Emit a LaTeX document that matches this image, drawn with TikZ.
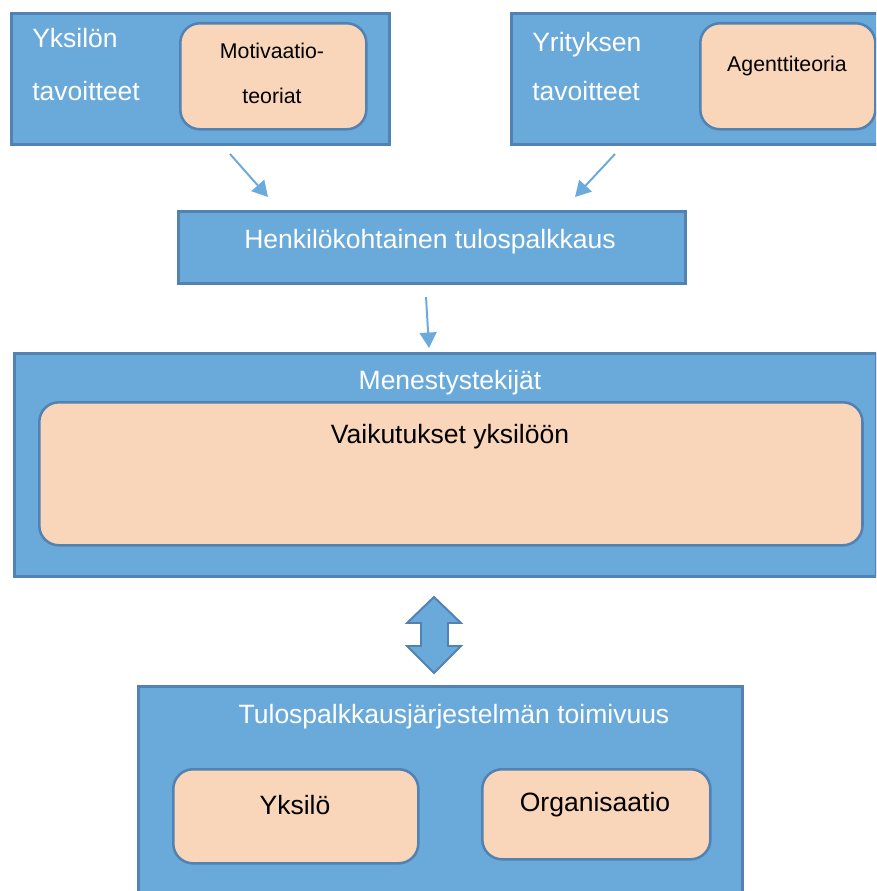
\documentclass[tikz,border=0pt]{standalone}
\usepackage{fontspec}
\setmainfont{Liberation Sans}
\usepackage{tikz}
\usetikzlibrary{arrows.meta, positioning}
\definecolor{boxblue}{RGB}{106,170,219}
\definecolor{boxedge}{RGB}{82,130,178}
\definecolor{peach}{RGB}{249,213,186}
\definecolor{arrowblue}{RGB}{107,170,220}

\tikzset{
  outerbox/.style={draw=boxedge, fill=boxblue, line width=1.8pt, anchor=north west, inner sep=0pt},
  innerbox/.style={draw=boxedge, fill=peach, line width=1.8pt, rounded corners=14pt, anchor=north west, inner sep=0pt},
  bigtext/.style={font=\fontsize{18.85}{37.7}\selectfont, inner sep=0pt},
  smalltext/.style={font=\fontsize{15.15}{32.7}\selectfont, inner sep=0pt},
  conn/.style={draw=arrowblue, line width=1.4pt, -{Triangle[length=11pt, width=12pt]}}
}

\begin{document}
\begin{tikzpicture}[x=0.025cm, y=-0.025cm]
    \useasboundingbox (0,0) rectangle (876,891);
    \clip (0,0) rectangle (876,891);

    % Goals of the individual and of the company
    \node[outerbox, minimum width=9.45cm, minimum height=3.275cm] (yksilo) at (10,12) {};
    \node[innerbox, minimum width=4.65cm, minimum height=2.65cm] (motiv) at (179,22) {};
    \node[outerbox, minimum width=10cm, minimum height=3.275cm] (yritys) at (510,12) {};
    \node[innerbox, minimum width=4.375cm, minimum height=2.65cm] (agentti) at (699,22) {};

    % (base = last line)
    \node[bigtext, text=white, align=left, anchor=base west] (yksilotxt) at (32,101) {Yksilön\\tavoitteet};
    \node[smalltext, align=center, anchor=base] (motivtxt) at (272,104) {Motivaatio-\\teoriat};
    \node[bigtext, text=white, align=left, anchor=base west, font=\fontsize{18.85}{35.5}\selectfont] (yritystxt) at (532,101) {Yrityksen\\tavoitteet};
    \node[smalltext, anchor=base] (agenttitxt) at (787,72) {Agenttiteoria};

    % Individual performance pay
    \node[outerbox, minimum width=12.675cm, minimum height=1.8cm] (henk) at (177,210) {};
    \node[bigtext, text=white, anchor=base] (henktxt) at (430,249) {Henkilökohtainen tulospalkkaus};

    % Success factors
    \node[outerbox, minimum width=21.55cm, minimum height=5.575cm] (menestys) at (13,352) {};
    \node[innerbox, minimum width=20.575cm, minimum height=3.575cm] (vaikutus) at (38,401) {};
    \node[bigtext, text=white, anchor=base] (menestystxt) at (450,389) {Menestystekijät};
    \node[bigtext, anchor=base] (vaikutustxt) at (450,443) {Vaikutukset yksilöön};

    % Functioning of the system
    \node[outerbox, minimum width=15.1cm, minimum height=6.25cm] (toimivuus) at (137,685) {};
    \node[bigtext, text=white, anchor=base] (toimivuustxt) at (454,723) {Tulospalkkausjärjestelmän toimivuus};
    \node[innerbox, minimum width=6.125cm, minimum height=2.35cm] (yksi) at (172,768) {};
    \node[innerbox, minimum width=5.7cm, minimum height=2.25cm] (org) at (481,768) {};
    \node[bigtext, anchor=base] (yksitxt) at (295,814) {Yksilö};
    \node[bigtext, anchor=base] (orgtxt) at (595,811) {Organisaatio};

    % Arrows
    \coordinate (a1s) at (230,154);
    \coordinate (a1e) at (268,197);
    \coordinate (a2s) at (615,154);
    \coordinate (a2e) at (575,197);
    \coordinate (a3s) at (426,297);
    \coordinate (a3e) at (429,348);
    \draw[conn] (a1s) -- (a1e);
    \draw[conn] (a2s) -- (a2e);
    \draw[conn] (a3s) -- (a3e);

    % Double arrow
    \draw[draw=boxedge, fill=boxblue, line width=1.4pt, line join=miter]
        (434,597) -- (461,623) -- (448,623) -- (448,646) -- (461,646) -- (434,673)
        -- (407,646) -- (421,646) -- (421,623) -- (407,623) -- cycle;
\end{tikzpicture}
\end{document}
